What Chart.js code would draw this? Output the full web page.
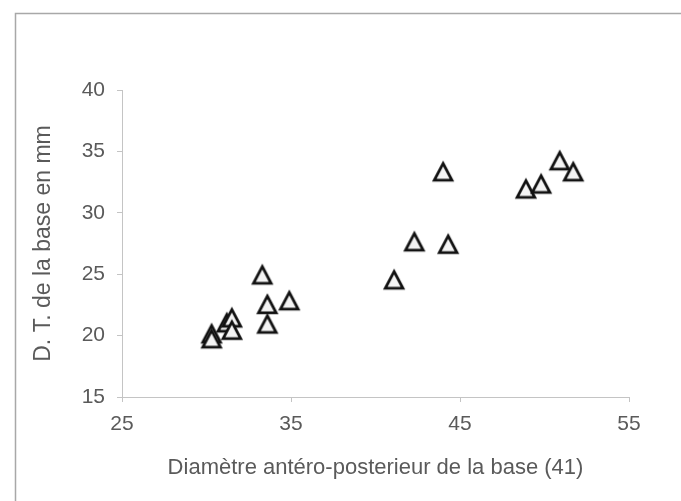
<!DOCTYPE html>
<html>
<head>
<meta charset="utf-8">
<script src="https://cdn.jsdelivr.net/npm/chart.js@4/dist/chart.umd.min.js"></script>
<style>
  html, body { margin: 0; padding: 0; background: #fff; }
  #wrap { width: 681px; height: 501px; position: relative; }
</style>
</head>
<body>
<div id="wrap"><canvas id="c" width="681" height="501"></canvas></div>
<script>
// Data
const apDiameter = [30.3, 30.3, 31.2, 31.5, 31.5, 33.3, 33.6, 33.6, 34.9,
                    41.1, 42.3, 44.0, 44.3, 48.9, 49.8, 50.9, 51.7];
const dtBase     = [20.1, 19.7, 21.0, 21.4, 20.4, 24.9, 22.5, 20.9, 22.8,
                    24.5, 27.6, 33.3, 27.4, 31.9, 32.3, 34.2, 33.3];
const xTickValues = [25, 35, 45, 55];
const yTickValues = [15, 20, 25, 30, 35, 40];
const xTitle = 'Diamètre antéro-posterieur de la base (41)';
const yTitle = 'D. T. de la base en mm';

// Marker image: outlined triangle
function makeTriangle() {
  const cv = document.createElement('canvas');
  cv.width = 26; cv.height = 26;
  const g = cv.getContext('2d');
  g.beginPath();
  g.moveTo(13, 4.2);
  g.lineTo(21.8, 20.8);
  g.lineTo(4.2, 20.8);
  g.closePath();
  g.fillStyle = '#f4f4f4';
  g.fill();
  g.lineWidth = 2.8;
  g.lineJoin = 'miter';
  g.strokeStyle = '#111';
  g.stroke();
  return cv;
}
const tri = makeTriangle();

const framePlugin = {
  id: 'frame',
  beforeDraw(chart) {
    const ctx = chart.ctx;
    ctx.save();
    ctx.strokeStyle = '#a8a8a8';
    ctx.lineWidth = 1.5;
    ctx.beginPath();
    ctx.moveTo(15.5, 501);
    ctx.lineTo(15.5, 13.5);
    ctx.lineTo(681, 13.5);
    ctx.stroke();
    ctx.restore();
  }
};

const points = apDiameter.map((x, i) => ({ x: x, y: dtBase[i] }));
const textColor = '#5a5a5a';
const axisColor = '#c4c4c4';
const fam = 'Liberation Sans, Arial, sans-serif';

new Chart(document.getElementById('c'), {
  type: 'scatter',
  data: {
    datasets: [{
      data: points,
      pointStyle: tri,
      pointRadius: 10,
      pointHoverRadius: 10
    }]
  },
  options: {
    responsive: false,
    animation: false,
    devicePixelRatio: 1,
    layout: { padding: { left: 0, top: 90, right: 52, bottom: 0 } },
    plugins: { legend: { display: false }, tooltip: { enabled: false } },
    scales: {
      x: {
        type: 'linear',
        min: 25, max: 55,
        afterBuildTicks: s => { s.ticks = xTickValues.map(v => ({ value: v })); },
        afterFit: s => { s.height = 104; },
        border: { display: true, color: axisColor, width: 1 },
        grid: { drawOnChartArea: false, drawTicks: true, tickLength: 5, color: axisColor },
        ticks: { color: textColor, font: { family: fam, size: 21 }, padding: 10, maxRotation: 0 },
        title: { display: true, text: xTitle, color: textColor,
                 font: { family: fam, size: 22 },
                 padding: { top: 4, bottom: 20 } }
      },
      y: {
        type: 'linear',
        min: 15, max: 40,
        afterBuildTicks: s => { s.ticks = yTickValues.map(v => ({ value: v })); },
        afterFit: s => { s.width = 122; },
        border: { display: true, color: axisColor, width: 1 },
        grid: { drawOnChartArea: false, drawTicks: true, tickLength: 5, color: axisColor },
        ticks: { color: textColor, font: { family: fam, size: 21 }, padding: 12 },
        title: { display: true, text: yTitle, color: textColor,
                 font: { family: fam, size: 23 },
                 padding: { top: 30, bottom: 4 } }
      }
    }
  },
  plugins: [framePlugin]
});
</script>
</body>
</html>
